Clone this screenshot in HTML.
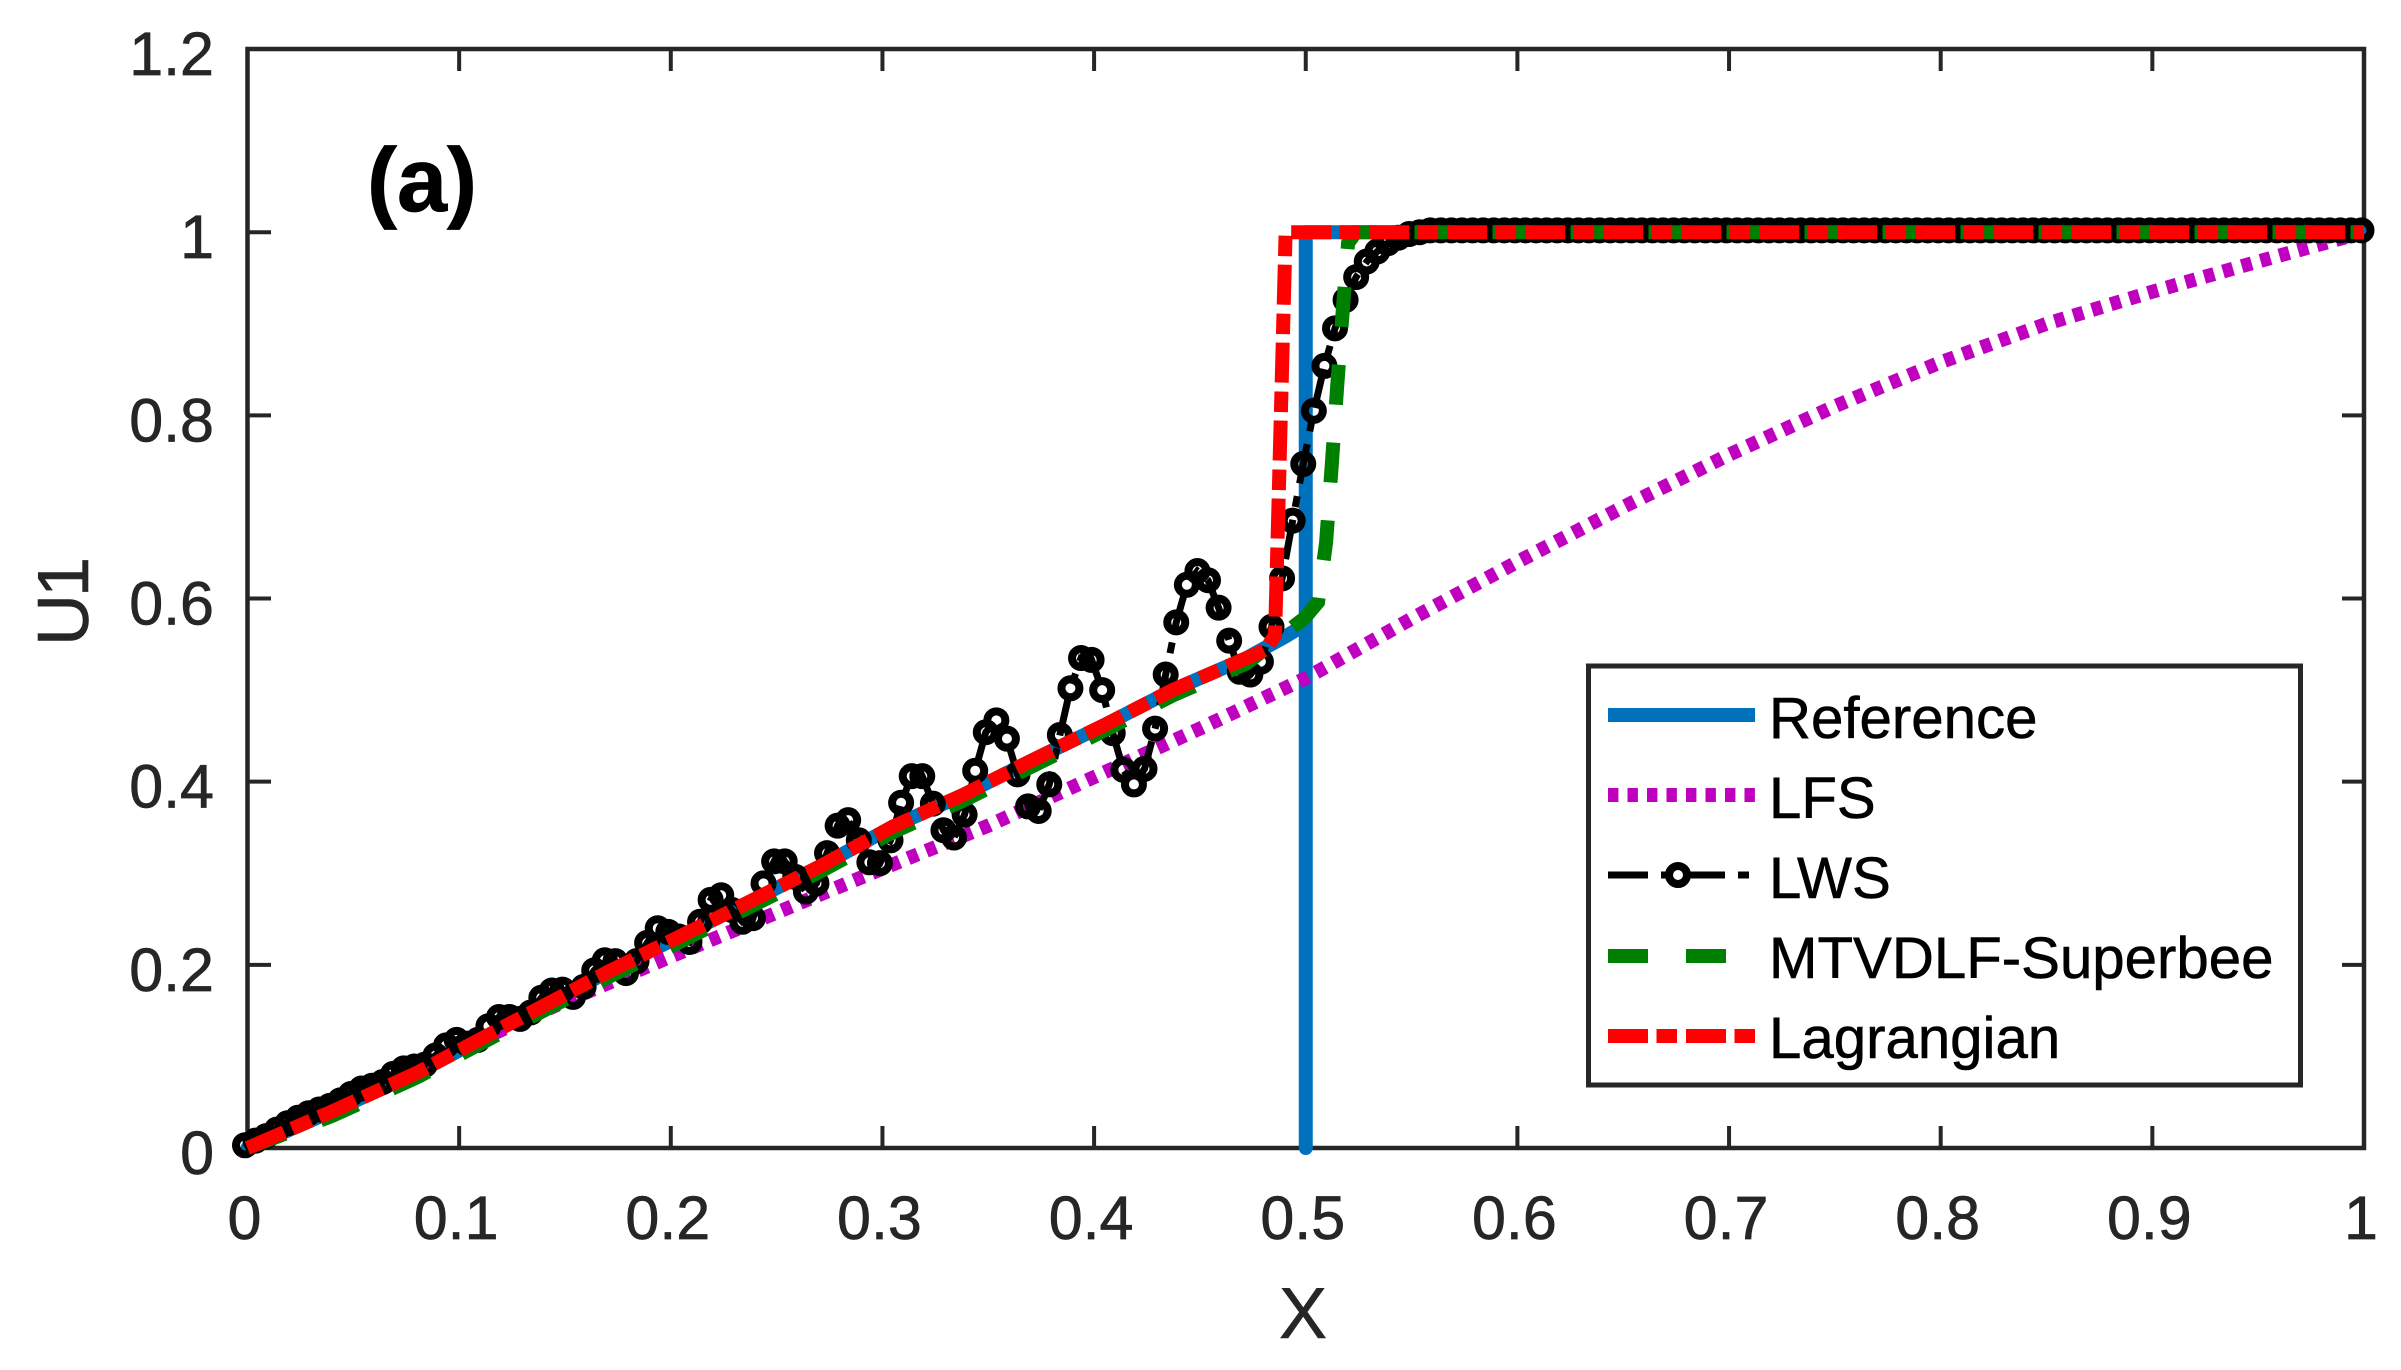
<!DOCTYPE html>
<html lang="en">
<head>
<meta charset="utf-8">
<title>U1 versus X</title>
<style>
html,body{margin:0;padding:0;background:#fff}
svg{display:block}
text{font-family:"Liberation Sans",Arial,sans-serif}
</style>
</head>
<body>
<svg id="chart" xmlns="http://www.w3.org/2000/svg" width="2401" height="1370" viewBox="0 0 2401 1370">
  <rect x="0" y="0" width="2401" height="1370" fill="#fff"/>
  <g id="axes"></g>
  <g id="series"></g>
  <text x="367" y="211" font-size="90" font-weight="bold" fill="#000" stroke="#000" stroke-width="0.8">(a)</text>
  <text x="1303" y="1338" font-size="72" fill="#262626" stroke="#262626" stroke-width="0.6" text-anchor="middle">X</text>
  <text x="0" y="0" font-size="72" letter-spacing="-3" fill="#262626" stroke="#262626" stroke-width="0.6" text-anchor="middle" transform="translate(88,603) rotate(-90)">U1</text>
  <g id="legend">
    <rect x="1588.5" y="666" width="712" height="419" fill="#fff" stroke="#262626" stroke-width="5"/>
    <line x1="1608" x2="1755" y1="715" y2="715" stroke="#0072BD" stroke-width="14"/>
    <line x1="1608" x2="1755" y1="795" y2="795" stroke="#BF00BF" stroke-width="14" stroke-dasharray="10.4 9.1"/>
    <line x1="1608" x2="1755" y1="875" y2="875" stroke="#000" stroke-width="7" stroke-dasharray="40 13 11 13"/>
    <circle cx="1678" cy="875" r="9" fill="none" stroke="#000" stroke-width="8"/>
    <line x1="1608" x2="1755" y1="956" y2="956" stroke="#008000" stroke-width="14" stroke-dasharray="40 38"/>
    <line x1="1608" x2="1755" y1="1036" y2="1036" stroke="#FF0000" stroke-width="14" stroke-dasharray="40 8.5 20.5 9"/>
    <text x="1769" y="738" font-size="58.2" fill="#000" stroke="#000" stroke-width="0.6">Reference</text>
    <text x="1769" y="818" font-size="58.2" fill="#000" stroke="#000" stroke-width="0.6">LFS</text>
    <text x="1769" y="898" font-size="58.2" fill="#000" stroke="#000" stroke-width="0.6">LWS</text>
    <text x="1769" y="978" font-size="58.2" fill="#000" stroke="#000" stroke-width="0.6">MTVDLF-Superbee</text>
    <text x="1769" y="1058" font-size="58.2" fill="#000" stroke="#000" stroke-width="0.6">Lagrangian</text>
  </g>
</svg>
<script>
const xTickValues = [0,0.1,0.2,0.3,0.4,0.5,0.6,0.7,0.8,0.9,1];
const xTickLabels = ["0","0.1","0.2","0.3","0.4","0.5","0.6","0.7","0.8","0.9","1"];
const yTickValues = [0,0.2,0.4,0.6,0.8,1,1.2];
const yTickLabels = ["0","0.2","0.4","0.6","0.8","1","1.2"];

const referenceX = [0,0.04,0.08,0.12,0.17,0.22,0.27,0.305,0.338,0.371,0.405,0.437,0.472,0.49,0.5,0.5,0.5,1];
const referenceY = [0,0.04,0.082,0.131,0.192,0.249,0.307,0.351,0.3855,0.4237,0.462,0.5,0.535,0.558,0.572,0,1,1];

const lfsX = [0,0.05,0.1,0.15,0.2,0.25,0.3,0.35,0.4,0.45,0.5,0.55,0.6,0.65,0.7,0.75,0.8,0.85,0.9,0.95,1];
const lfsY = [0,0.055,0.108,0.16,0.209,0.257,0.305,0.352,0.405,0.458,0.513,0.578,0.64,0.7,0.757,0.81,0.858,0.9,0.935,0.968,1];

const lwsX = [
0,0.005,0.01,0.015,0.02,0.025,0.03,0.035,0.04,0.045,0.05,0.055,0.06,0.065,0.07,0.075,0.08,0.085,0.09,0.095,
0.1,0.105,0.11,0.115,0.12,0.125,0.13,0.135,0.14,0.145,0.15,0.155,0.16,0.165,0.17,0.175,0.18,0.185,0.19,0.195,
0.2,0.205,0.21,0.215,0.22,0.225,0.23,0.235,0.24,0.245,0.25,0.255,0.26,0.265,0.27,0.275,0.28,0.285,0.29,0.295,
0.3,0.305,0.31,0.315,0.32,0.325,0.33,0.335,0.34,0.345,0.35,0.355,0.36,0.365,0.37,0.375,0.38,0.385,0.39,0.395,
0.4,0.405,0.41,0.415,0.42,0.425,0.43,0.435,0.44,0.445,0.45,0.455,0.46,0.465,0.47,0.475,0.48,0.485,0.49,0.495,
0.5,0.505,0.51,0.515,0.52,0.525,0.53,0.535,0.54,0.545,0.55,0.555,0.56,0.565,0.57,0.575,0.58,0.585,0.59,0.595,
0.6,0.605,0.61,0.615,0.62,0.625,0.63,0.635,0.64,0.645,0.65,0.655,0.66,0.665,0.67,0.675,0.68,0.685,0.69,0.695,
0.7,0.705,0.71,0.715,0.72,0.725,0.73,0.735,0.74,0.745,0.75,0.755,0.76,0.765,0.77,0.775,0.78,0.785,0.79,0.795,
0.8,0.805,0.81,0.815,0.82,0.825,0.83,0.835,0.84,0.845,0.85,0.855,0.86,0.865,0.87,0.875,0.88,0.885,0.89,0.895,
0.9,0.905,0.91,0.915,0.92,0.925,0.93,0.935,0.94,0.945,0.95,0.955,0.96,0.965,0.97,0.975,0.98,0.985,0.99,0.995,
1];
const lwsY = [
0.003,0.008,0.013,0.02,0.027,0.033,0.038,0.042,0.046,0.052,0.059,0.065,0.068,0.072,0.081,0.087,0.089,0.091,0.101,0.112,
0.118,0.114,0.118,0.133,0.143,0.143,0.141,0.148,0.164,0.172,0.173,0.165,0.176,0.194,0.205,0.204,0.191,0.204,0.224,0.24,
0.236,0.231,0.225,0.247,0.271,0.276,0.26,0.247,0.251,0.289,0.313,0.313,0.296,0.28,0.289,0.322,0.352,0.358,0.336,0.312,
0.311,0.336,0.377,0.406,0.406,0.376,0.347,0.339,0.364,0.412,0.454,0.467,0.447,0.408,0.373,0.368,0.397,0.451,0.502,0.535,
0.533,0.5,0.453,0.413,0.397,0.414,0.458,0.517,0.574,0.615,0.63,0.62,0.59,0.554,0.52,0.517,0.531,0.569,0.622,0.685,
0.747,0.805,0.854,0.895,0.926,0.951,0.968,0.979,0.988,0.994,0.998,1.0,1.002,1.002,1.002,1.002,1.002,1.002,1.002,1.002,
1.002,1.002,1.002,1.002,1.002,1.002,1.002,1.002,1.002,1.002,1.002,1.002,1.002,1.002,1.002,1.002,1.002,1.002,1.002,1.002,
1.002,1.002,1.002,1.002,1.002,1.002,1.002,1.002,1.002,1.002,1.002,1.002,1.002,1.002,1.002,1.002,1.002,1.002,1.002,1.002,
1.002,1.002,1.002,1.002,1.002,1.002,1.002,1.002,1.002,1.002,1.002,1.002,1.002,1.002,1.002,1.002,1.002,1.002,1.002,1.002,
1.002,1.002,1.002,1.002,1.002,1.002,1.002,1.002,1.002,1.002,1.002,1.002,1.002,1.002,1.002,1.002,1.002,1.002,1.002,1.002,
1.002];

const mtvdlfX = [0,0.04,0.08,0.12,0.17,0.22,0.27,0.305,0.338,0.371,0.405,0.437,0.472,0.494,0.4996,0.5058,0.5096,0.5123,0.5148,0.5175,0.52,0.5237,1];
const mtvdlfY = [0,0.035,0.077,0.126,0.186,0.243,0.301,0.345,0.379,0.417,0.456,0.494,0.529,0.569,0.579,0.596,0.661,0.746,0.83,0.915,0.988,1,1];

const lagrangianX = [0,0.04,0.08,0.12,0.17,0.22,0.27,0.305,0.338,0.371,0.405,0.437,0.472,0.481,0.4855,0.4905,1];
const lagrangianY = [0,0.04,0.082,0.131,0.192,0.249,0.307,0.351,0.3855,0.4237,0.462,0.5,0.535,0.544,0.56,1,1];

const SVG_NS = 'http://www.w3.org/2000/svg';
const xAxis = v => 247.5 + v * 2116.5;
const yAxis = v => 1148 - v * 915.8;
const markerShift = -2.5;
const axisColor = '#262626';

function make(tag, parent, attrs) {
  const el = document.createElementNS(SVG_NS, tag);
  for (const k in attrs) el.setAttribute(k, attrs[k]);
  parent.appendChild(el);
  return el;
}
function pathFrom(xs, ys, shift) {
  return xs.map((x, i) => (i ? 'L' : 'M') + (xAxis(x) + shift).toFixed(2) + ' ' + yAxis(ys[i]).toFixed(2)).join(' ');
}

const axesGroup = document.getElementById('axes');
const seriesGroup = document.getElementById('series');

const frame = make('rect', axesGroup, {x: 247.5, y: 49, width: 2116.5, height: 1099, fill: 'none', stroke: axisColor, 'stroke-width': 4.5});



xTickValues.forEach((v, i) => {
  const px = xAxis(v);
  const tickBottom = make('line', axesGroup, {x1: px, x2: px, y1: 1148, y2: 1126, stroke: axisColor, 'stroke-width': 4});
  
  
  const tickTop = make('line', axesGroup, {x1: px, x2: px, y1: 49, y2: 71, stroke: axisColor, 'stroke-width': 4});
  
  
  const label = make('text', axesGroup, {x: px - 3, y: 1239, 'font-size': 61, fill: axisColor, stroke: axisColor, 'stroke-width': 0.7, 'text-anchor': 'middle'});
  label.textContent = xTickLabels[i];
  
  
});

yTickValues.forEach((v, i) => {
  const py = yAxis(v);
  const tickLeft = make('line', axesGroup, {x1: 247.5, x2: 271, y1: py, y2: py, stroke: axisColor, 'stroke-width': 4});
  
  
  const tickRight = make('line', axesGroup, {x1: 2364, x2: 2342, y1: py, y2: py, stroke: axisColor, 'stroke-width': 4});
  
  
  const label = make('text', axesGroup, {x: 214, y: py + 26, 'font-size': 61, fill: axisColor, stroke: axisColor, 'stroke-width': 0.7, 'text-anchor': 'end'});
  label.textContent = yTickLabels[i];
  
  
});

const referenceLine = make('path', seriesGroup, {d: pathFrom(referenceX, referenceY, 0), fill: 'none', stroke: '#0072BD', 'stroke-width': 14, 'stroke-linecap': 'round', 'stroke-linejoin': 'round'});



const lfsLine = make('path', seriesGroup, {d: pathFrom(lfsX, lfsY, 0), fill: 'none', stroke: '#BF00BF', 'stroke-width': 14, 'stroke-dasharray': '10.4 9.1'});



const lwsLine = make('path', seriesGroup, {d: pathFrom(lwsX, lwsY, markerShift), fill: 'none', stroke: '#000', 'stroke-width': 7, 'stroke-dasharray': '40 13 11 13'});



lwsX.forEach((x, i) => {
  const marker = make('circle', seriesGroup, {cx: xAxis(x) + markerShift, cy: yAxis(lwsY[i]), r: 9, fill: 'none', stroke: '#000', 'stroke-width': 8});
  
  
});

const mtvdlfLine = make('path', seriesGroup, {d: pathFrom(mtvdlfX, mtvdlfY, 0), fill: 'none', stroke: '#008000', 'stroke-width': 14, 'stroke-dasharray': '40 38'});



const lagrangianLine = make('path', seriesGroup, {d: pathFrom(lagrangianX, lagrangianY, 0), fill: 'none', stroke: '#FF0000', 'stroke-width': 14, 'stroke-dasharray': '40 8.5 20.5 9'});


</script>
</body>
</html>
